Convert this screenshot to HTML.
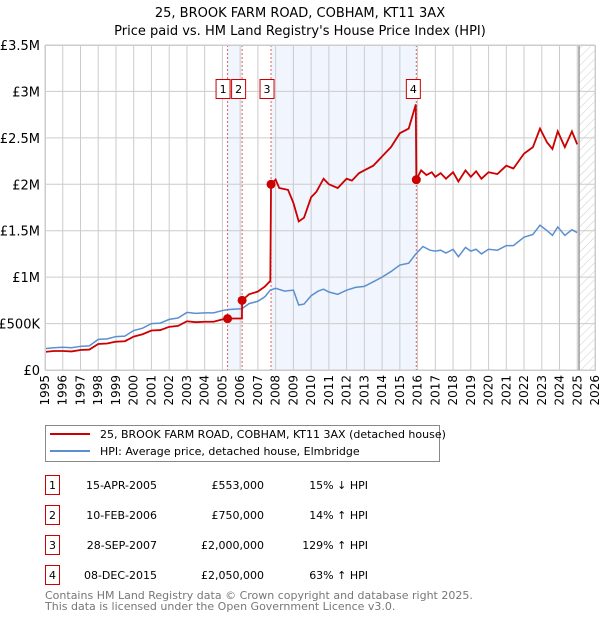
<!DOCTYPE html>
<html><head><meta charset="utf-8"><style>
body{margin:0;background:#fff;font-family:"DejaVu Sans","Liberation Sans",sans-serif;}
svg text{font-family:"DejaVu Sans","Liberation Sans",sans-serif;}
</style></head><body>
<svg id="c" width="600" height="620" xmlns="http://www.w3.org/2000/svg">
<defs><pattern id="hatch" width="6" height="6" patternUnits="userSpaceOnUse" patternTransform="rotate(45)"><line x1="0" y1="0" x2="0" y2="6" stroke="#ccc" stroke-width="1"/></pattern></defs>
<text x="300" y="17" text-anchor="middle" font-size="13">25, BROOK FARM ROAD, COBHAM, KT11 3AX</text>
<text x="300" y="35" text-anchor="middle" font-size="13">Price paid vs. HM Land Registry's House Price Index (HPI)</text>
<g id="plot"></g>
<g>
<rect x="45.5" y="425.5" width="394" height="36" fill="#fff" stroke="#888"/>
<line x1="50" y1="434" x2="90" y2="434" stroke="#cc0000" stroke-width="2"/>
<text x="100" y="438" font-size="11">25, BROOK FARM ROAD, COBHAM, KT11 3AX (detached house)</text>
<line x1="50" y1="451" x2="90" y2="451" stroke="#5b8fd0" stroke-width="2"/>
<text x="100" y="455" font-size="11">HPI: Average price, detached house, Elmbridge</text>
</g>
<g id="table" font-size="11"></g>
<text x="45" y="599" font-size="11" fill="#777">Contains HM Land Registry data © Crown copyright and database right 2025.</text>
<text x="45" y="610" font-size="11" fill="#777">This data is licensed under the Open Government Licence v3.0.</text>
</svg>
<script>
const hpiYears=[1995,1995.5,1996,1996.5,1997,1997.5,1998,1998.5,1999,1999.5,2000,2000.5,2001,2001.5,2002,2002.5,2003,2003.5,2004,2004.5,2005,2005.3,2005.7,2006.1,2006.5,2007,2007.4,2007.7,2008,2008.5,2009,2009.3,2009.6,2010,2010.4,2010.7,2011,2011.5,2012,2012.5,2013,2013.5,2014,2014.5,2015,2015.5,2015.9,2016.3,2016.7,2017,2017.3,2017.6,2018,2018.3,2018.7,2019,2019.3,2019.6,2020,2020.5,2021,2021.4,2022,2022.5,2022.9,2023.3,2023.6,2023.9,2024.3,2024.7,2025];
const hpiVals=[230,240,245,240,255,260,330,335,360,365,425,450,500,505,545,560,620,610,615,615,640,650,655,660,715,740,790,860,880,850,860,700,710,800,850,870,840,815,860,890,900,950,1000,1060,1130,1150,1250,1330,1290,1280,1290,1260,1300,1220,1320,1280,1300,1250,1300,1290,1340,1340,1430,1460,1560,1500,1450,1540,1450,1510,1480];
const redYears=[1995,1995.5,1996,1996.5,1997,1997.5,1998,1998.5,1999,1999.5,2000,2000.5,2001,2001.5,2002,2002.5,2003,2003.5,2004,2004.5,2005,2005.29,2005.7,2006.1,2006.11,2006.5,2007,2007.4,2007.7,2007.74,2008,2008.2,2008.7,2009,2009.3,2009.6,2010,2010.3,2010.7,2011,2011.5,2012,2012.3,2012.7,2013,2013.5,2014,2014.5,2015,2015.5,2015.9,2015.93,2016.2,2016.5,2016.8,2017,2017.3,2017.6,2018,2018.3,2018.7,2019,2019.3,2019.6,2020,2020.5,2021,2021.4,2022,2022.5,2022.9,2023.3,2023.6,2023.9,2024.3,2024.7,2025];
const redVals=[195,205,205,200,215,220,280,285,305,310,360,385,425,430,465,475,525,515,520,520,545,553,555,555,750,815,845,900,960,2000,2050,1960,1940,1800,1600,1640,1860,1920,2060,2000,1960,2060,2040,2120,2150,2200,2300,2400,2550,2600,2860,2050,2150,2100,2130,2080,2120,2060,2130,2030,2150,2080,2140,2060,2130,2110,2200,2170,2330,2400,2600,2450,2380,2570,2400,2570,2430];
const saleYears=[2005.29,2006.11,2007.74,2015.93];
const saleVals=[553,750,2000,2050];
const saleDates=["15-APR-2005","10-FEB-2006","28-SEP-2007","08-DEC-2015"];
const salePrices=["£553,000","£750,000","£2,000,000","£2,050,000"];
const saleHpi=["15% ↓ HPI","14% ↑ HPI","129% ↑ HPI","63% ↑ HPI"];
const yTicks=[0,500,1000,1500,2000,2500,3000,3500];
const yTickLabels=["£0","£500K","£1M","£1.5M","£2M","£2.5M","£3M","£3.5M"];
const xTicks=[1995,1996,1997,1998,1999,2000,2001,2002,2003,2004,2005,2006,2007,2008,2009,2010,2011,2012,2013,2014,2015,2016,2017,2018,2019,2020,2021,2022,2023,2024,2025,2026];

const L=45,R=595,T=45,B=370;
const x=v=>L+(v-1995)/(2026-1995)*(R-L);
const y=v=>B-v/3500*(B-T);
const NS="http://www.w3.org/2000/svg";
const plot=document.getElementById('plot');
function mk(tag,attrs,parent){const e=document.createElementNS(NS,tag);for(const k in attrs)e.setAttribute(k,attrs[k]);(parent||plot).appendChild(e);return e;}

let e;
e=mk('rect',{x:x(saleYears[0]),y:T,width:x(saleYears[1])-x(saleYears[0]),height:B-T,fill:'#eef3fc',opacity:0.8});


e=mk('rect',{x:x(saleYears[2]),y:T,width:x(saleYears[3])-x(saleYears[2]),height:B-T,fill:'#eef3fc',opacity:0.8});


e=mk('rect',{x:x(2025.1),y:T,width:R-x(2025.1),height:B-T,fill:'url(#hatch)'});


xTicks.forEach(t=>{
 e=mk('line',{x1:x(t),x2:x(t),y1:T,y2:B,stroke:'#ccc','stroke-width':1});
 
 
 e=mk('text',{x:0,y:0,'font-size':12,'text-anchor':'end',transform:`translate(${x(t)+4},${B+5}) rotate(-90)`});
 e.textContent=t;
 
 
});
yTicks.forEach((t,i)=>{
 e=mk('line',{x1:L,x2:R,y1:y(t),y2:y(t),stroke:'#ccc','stroke-width':1});
 
 
 e=mk('text',{x:L-5,y:y(t)+5,'font-size':13,'text-anchor':'end'});
 e.textContent=yTickLabels[i];
 
 
});
e=mk('line',{x1:x(2025.1),x2:x(2025.1),y1:T,y2:B,stroke:'#999','stroke-width':1.5});


saleYears.forEach(s=>{
 e=mk('line',{x1:x(s),x2:x(s),y1:T,y2:B,stroke:'#e06060','stroke-width':1,'stroke-dasharray':'2,2'});
 
 
});
e=mk('polyline',{points:hpiYears.map((v,i)=>x(v)+','+y(hpiVals[i])).join(' '),fill:'none',stroke:'#5b8fd0','stroke-width':1.5});


e=mk('polyline',{points:redYears.map((v,i)=>x(v)+','+y(redVals[i])).join(' '),fill:'none',stroke:'#cc0000','stroke-width':1.8});


saleYears.forEach((s,i)=>{
 e=mk('circle',{cx:x(s),cy:y(saleVals[i]),r:4.5,fill:'#cc0000'});
 
 
});
const boxOff=[-4.5,-3.5,-4,-3];
saleYears.forEach((s,i)=>{
 const bx=x(s)+boxOff[i]-7;
 e=mk('rect',{x:bx,y:79.5,width:14,height:19,fill:'#fff',stroke:'#cc0000'});
 
 
 e=mk('text',{x:bx+7,y:93,'font-size':11,'text-anchor':'middle'});
 e.textContent=i+1;
 
 
});
mk('rect',{x:L+0.5,y:T+0.5,width:R-L,height:B-T,fill:'none',stroke:'#ccc'});
const tb=document.getElementById('table');
saleDates.forEach((d,i)=>{
 const ry=475+i*30;
 e=mk('rect',{x:45.5,y:ry+0.5,width:14,height:19,fill:'#fff',stroke:'#cc0000'},tb);
 
 
 e=mk('text',{x:52.5,y:ry+14,'text-anchor':'middle'},tb);e.textContent=i+1;
 
 
 e=mk('text',{x:157,y:ry+14,'text-anchor':'end'},tb);e.textContent=d;
 
 
 e=mk('text',{x:264,y:ry+14,'text-anchor':'end'},tb);e.textContent=salePrices[i];
 
 
 e=mk('text',{x:368,y:ry+14,'text-anchor':'end'},tb);e.textContent=saleHpi[i];
 
 
});
</script>
</body></html>
